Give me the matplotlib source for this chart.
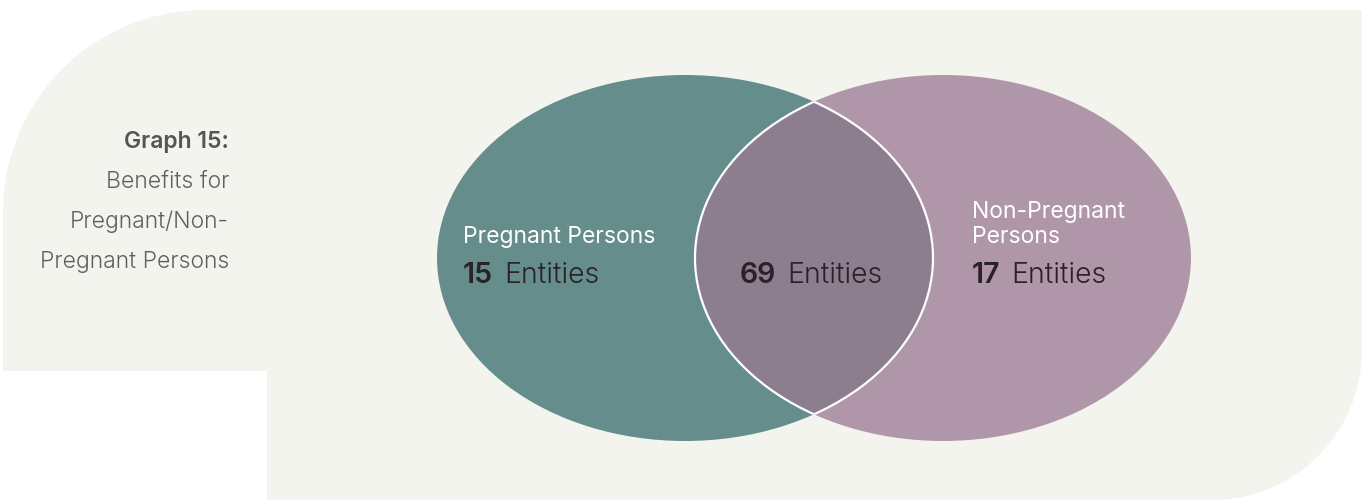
import numpy as np
import matplotlib.pyplot as plt
from matplotlib.patches import Ellipse, PathPatch
from matplotlib.path import Path

# chart content
set_labels = [['Pregnant Persons'], ['Non-Pregnant', 'Persons']]
only_counts = [15, 17]
both_count = 69
unit = 'Entities'
title = 'Graph 15:'
subtitle = ['Benefits for', 'Pregnant/Non-', 'Pregnant Persons']

W, H = 1363, 501
FONT = ['Inter', 'DejaVu Sans']
plt.rcParams['font.family'] = FONT

fig = plt.figure(figsize=(W / 100, H / 100), dpi=100)
ax = fig.add_axes([0, 0, 1, 1])
ax.set_xlim(0, W)
ax.set_ylim(H, 0)
ax.axis('off')


def arc(cx, cy, r, a0, a1, n=60):
    t = np.radians(np.linspace(a0, a1, n))
    return np.column_stack([cx + r * np.cos(t), cy + r * np.sin(t)])


# background panel with rounded corners and cut-out bottom left
pts = np.vstack([
    arc(205, 212, 202, 180, 270),
    [[1362, 10]],
    arc(1212, 350, 150, 0, 90),
    [[267, 500], [267, 371], [3, 371]],
])
ax.add_patch(PathPatch(Path(np.vstack([pts, pts[:1]])), facecolor='#f4f4ef', edgecolor='none'))

# venn circles
teal, mauve, mix = '#648d8b', '#b096a9', '#8d7e8f'
centers = [(685, 258), (943, 258)]
ew, eh = 496, 366
ea = Ellipse(centers[0], ew, eh, facecolor=teal, edgecolor='none')
eb = Ellipse(centers[1], ew, eh, facecolor=mauve, edgecolor='none')
ax.add_patch(ea)
ax.add_patch(eb)
lens = Ellipse(centers[1], ew, eh, facecolor=mix, edgecolor='none')
ax.add_patch(lens)
lens.set_clip_path(ea)
ra = Ellipse(centers[0], ew, eh, facecolor='none', edgecolor='white', linewidth=1.6)
rb = Ellipse(centers[1], ew, eh, facecolor='none', edgecolor='white', linewidth=1.6)
ax.add_patch(ra)
ax.add_patch(rb)
ra.set_clip_path(eb)
rb.set_clip_path(ea)

fig.canvas.draw()
renderer = fig.canvas.get_renderer()


def count_label(x, y, n, center=False):
    num = ax.text(x, y, str(n), fontsize=20.5, fontweight=600, color='#2a2227', va='baseline')
    word = ax.text(x, y, unit, fontsize=20.5, fontweight=300, color='#2a2227', va='baseline')
    wn = num.get_window_extent(renderer).width
    ww = word.get_window_extent(renderer).width
    gap = 11
    x0 = x - (wn + gap + ww) / 2 if center else x
    num.set_x(x0)
    word.set_x(x0 + wn + gap)


# set labels and counts
label_x = [463, 972]
for lines, n, lx in zip(set_labels, only_counts, label_x):
    for k, line in enumerate(reversed(lines)):
        ax.text(lx, 243 - 25 * k, line, fontsize=16.5, fontweight=400, color='white', va='baseline')
    count_label(lx, 283, n)
count_label(811, 283, both_count, center=True)

# caption on the left
ax.text(229, 148, title, fontsize=16.5, fontweight=600, color='#555555', ha='right', va='baseline')
for k, line in enumerate(subtitle):
    ax.text(229, 188 + 40 * k, line, fontsize=16.5, fontweight=300, color='#5f5f5f',
            ha='right', va='baseline')

fig.savefig('out.png', dpi=100, facecolor='white')
